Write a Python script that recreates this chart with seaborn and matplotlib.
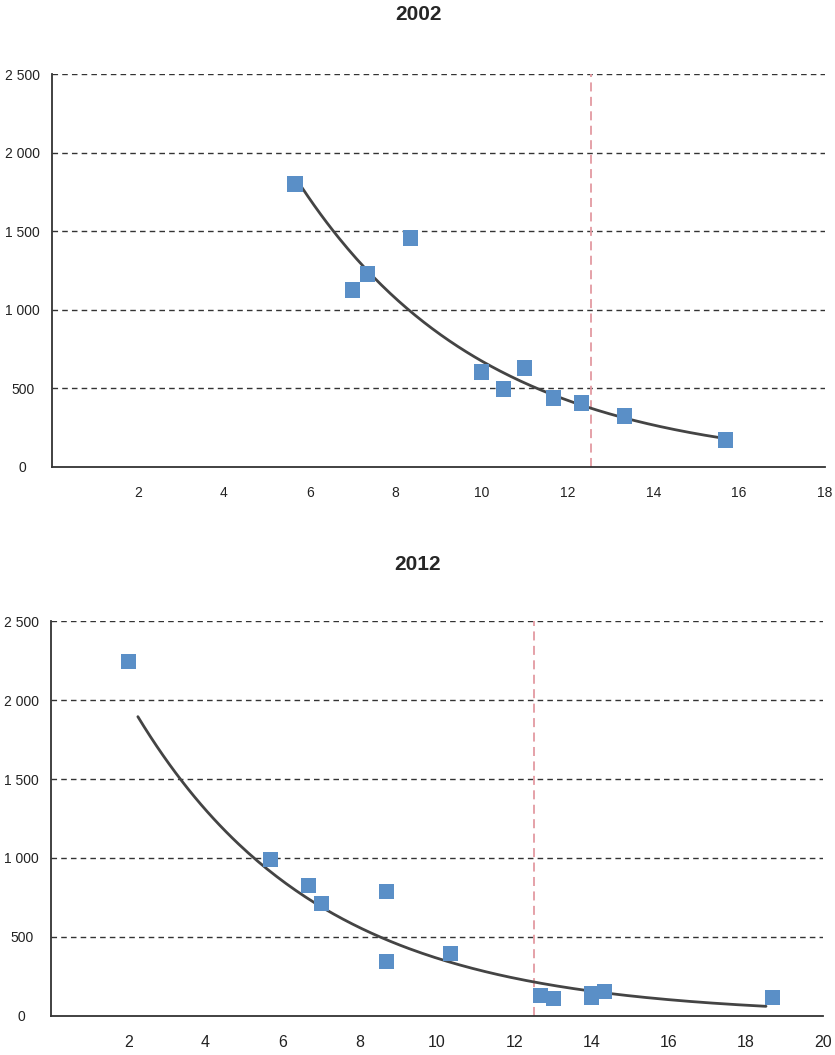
import matplotlib
matplotlib.use("Agg")
import matplotlib.pyplot as plt
import numpy as np
import pandas as pd
import seaborn as sns

# values
x_2002 = [5.66, 6.99, 7.34, 8.34, 10.0, 10.51, 11.0, 11.68, 12.33, 13.33, 15.69]
y_2002 = [1800, 1126, 1228, 1457, 604, 496, 630, 439, 407, 324, 172]
x_2012 = [2.0, 5.69, 6.67, 7.01, 8.69, 8.69, 10.35, 12.68, 13.02, 14.0, 14.0, 14.34, 18.69]
y_2012 = [2246, 991, 826, 712, 788, 345, 395, 129, 110, 140, 115, 155, 117]
vline_2002 = 12.54
vline_2012 = 12.5
y_ticks = [0, 500, 1000, 1500, 2000, 2500]

sns.set_theme(style="white")
plt.rcParams['font.family'] = ['Liberation Sans', 'DejaVu Sans']

fig = plt.figure(figsize=(8.35, 10.55), dpi=100)
ax1 = fig.add_axes([52/835, 1-467/1055, 773/835, 393/1055])
ax2 = fig.add_axes([51/835, 1-1015.7/1055, 772/835, 394.4/1055])


def panel(ax, x, y, xmax, vline, xsize):
    df = pd.DataFrame({"x": x, "y": y})
    for v in y_ticks[1:]:
        ax.axhline(v, color="#333333", lw=1, ls=(0, (4, 3)), zorder=1)
    ax.axvline(vline, color="#e39aa1", lw=1.3, ls=(0, (5, 3)), zorder=1)

    # exponential trend fitted to the points
    xa, ya = np.array(x), np.array(y)
    coefs = np.polyfit(xa, np.log(ya), 1)
    lo, hi = xa.min(), xa.max()
    xs = np.linspace(lo + 0.015 * (hi - lo), hi - 0.01 * (hi - lo), 200)
    sns.lineplot(x=xs, y=np.exp(np.polyval(coefs, xs)), ax=ax,
                 color="#444444", lw=2, zorder=2)

    sns.scatterplot(data=df, x="x", y="y", ax=ax, marker="s", s=120,
                    color="#5a8fc7", edgecolor="none", zorder=3)
    ax.set_xlim(0, xmax)
    ax.set_ylim(0, 2500)
    ax.set_xticks(range(2, xmax + 1, 2))
    ax.set_yticks(y_ticks)
    ax.set_yticklabels([f"{v:,}".replace(",", " ") for v in y_ticks], ha="center")
    ax.tick_params(axis="y", length=4, width=1, color="#333333", pad=17,
                   labelsize=10, labelcolor="#222222")
    ax.tick_params(axis="x", length=7, width=1.3, color="#333333", pad=7,
                   labelsize=xsize, labelcolor="#222222")
    ax.set_xlabel("")
    ax.set_ylabel("")
    for s in ["top", "right"]:
        ax.spines[s].set_visible(False)
    for s in ["left", "bottom"]:
        ax.spines[s].set_color("#333333")
        ax.spines[s].set_linewidth(1.3)


panel(ax1, x_2002, y_2002, 18, vline_2002, 10)
panel(ax2, x_2012, y_2012, 20, vline_2012, 11.5)

fig.text(418/835, 1-14/1055, "2002", ha="center", va="center", fontsize=15, fontweight="bold")
fig.text(418/835, 1-564/1055, "2012", ha="center", va="center", fontsize=15, fontweight="bold")

fig.savefig("out.png", dpi=100)
